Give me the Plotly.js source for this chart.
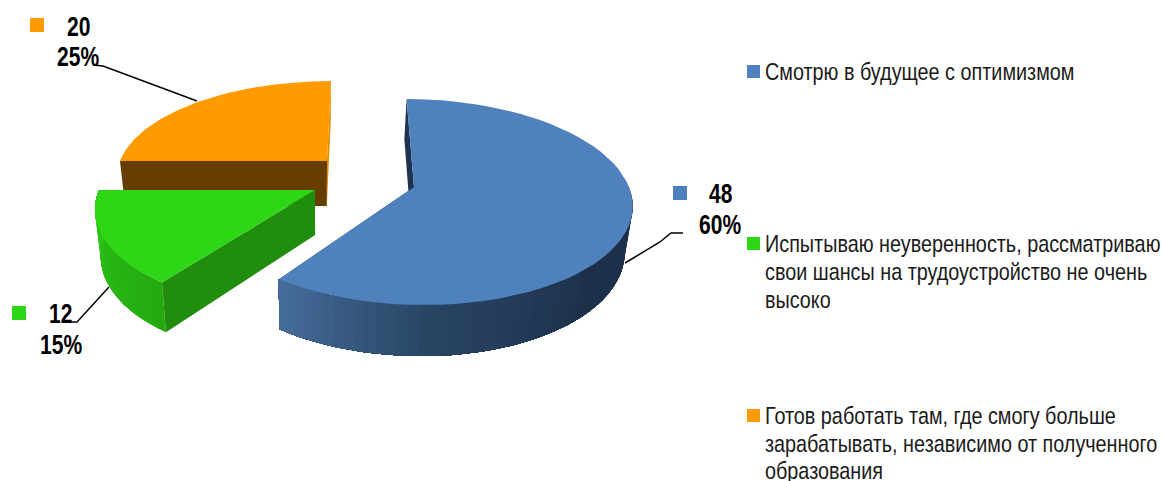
<!DOCTYPE html>
<html><head><meta charset="utf-8">
<script src="https://cdn.plot.ly/plotly-3.0.1.min.js"></script>
<style>html,body{margin:0;padding:0;background:#fff}#c{width:1162px;height:481px}</style>
</head><body><div id="c"></div>
<script>
// ---- data ----
const categories = ['Смотрю в будущее с оптимизмом',
  'Испытываю неуверенность, рассматриваю свои шансы на трудоустройство не очень высоко',
  'Готов работать там, где смогу больше зарабатывать, независимо от полученного образования'];
const values = [48, 12, 20];
// ---- wrapped legend text ----
const legendLines = [
  ['Смотрю в будущее с оптимизмом'],
  ['Испытываю неуверенность, рассматриваю','свои шансы на трудоустройство не очень','высоко'],
  ['Готов работать там, где смогу больше','зарабатывать, независимо от полученного','образования']
];
// ---- styles / layout ----
const topColors = ['#4f81bd', '#2dd716', '#ff9a00'];
const FONT = '"Liberation Sans",Arial,sans-serif';
const K = 0.1456, VX = 320, SH = 0.0255, D = 45, K2 = 0.12;
const sliceGeom = [
  {ax:414, ay:187, R:215, a:100.8, sk:8.5},
  {ax:315, ay:190, R:216, a:100.8, sk:-10},
  {ax:327, ay:161, R:207, a:91.6,  sk:-4.6}
];
const sideStops = [
  [[0,'#1c304a'],[0.62,'#1c304a'],[0.83,'#294564'],[1,'#466d9b']],
  [[0,'#2cc917'],[1,'#25a811']],
  [[0,'#d98a00'],[1,'#d98a00']]
];
const cutFaceColors = [['#1e3350','#1e3350'],['#208d0d','#208d0d'],['#663e00','#e08c00']];
const legendBox = [[753.5,71.5],[753.5,243.5],[753.5,415.5]];
const legendTextX = 764;
const legendLineY = [[71],[243,271,299],[415,443,470]];
const labelBox = [[680,193],[19,313],[37,25]];
const labelText = [[708,193.5,698,224.5],[48,313.5,39,344.5],[65.5,26.5,56,56.5]];
const leaders = [
  {x:[625,660,671,683], y:[263,242,233,233]},
  {x:[109,77,65], y:[287,322,322]},
  {x:[197,103,93], y:[101,66,65]}
];

// ---- projection ----
function topPt(g, th, r){
  r = r === undefined ? 1 : r;
  const u = r*Math.sin(th), v = -r*Math.cos(th), d = 1 - K*v;
  return [g.ax + (g.R*u + g.sk*v)/d, g.ay + g.a*v/d, v];
}
function botPt(p){
  return [p[0] + (VX - p[0])*SH, p[1] + D/(1 - K2*p[2])];
}
function hex(c){return [1,3,5].map(i=>parseInt(c.slice(i,i+2),16));}
function mix(stops,t){
  for(let i=1;i<stops.length;i++){
    if(t<=stops[i][0]){
      const a=stops[i-1],b=stops[i],f=(t-a[0])/((b[0]-a[0])||1);
      const A=hex(a[1]),B=hex(b[1]);
      return 'rgb('+A.map((x,j)=>Math.round(x+(B[j]-x)*f)).join(',')+')';
    }
  }
  return stops[stops.length-1][1];
}
function poly(pts,color){
  return {type:'scatter',mode:'lines',x:pts.map(p=>p[0]).concat([pts[0][0]]),y:pts.map(p=>p[1]).concat([pts[0][1]]),
    fill:'toself',fillcolor:color,line:{color:color,width:0},hoverinfo:'skip',showlegend:false};
}
// rim band from angle a to angle b
function band(g,a,b,n){
  const upper=[],lower=[];
  for(let s=0;s<=n;s++){
    const p=topPt(g,a+(b-a)*s/n);
    upper.push([p[0],p[1]]); lower.unshift(botPt(p));
  }
  return upper.concat(lower);
}

const total = values.reduce((a,b)=>a+b,0);
const traces = [];
leaders.forEach(l=>traces.push({type:'scatter',mode:'lines',x:l.x,y:l.y,line:{color:'#000',width:1.5},hoverinfo:'skip',showlegend:false}));

const starts=[]; let acc=0;
values.forEach(v=>{starts.push(acc/total*2*Math.PI); acc+=v;});

function drawTop(i,t0,t1){
  const g=sliceGeom[i],apex=topPt(g,0,0),n=60,pts=[[apex[0],apex[1]]];
  for(let s=0;s<=n;s++){const p=topPt(g,t0+(t1-t0)*s/n);pts.push([p[0],p[1]]);}
  traces.push(poly(pts,topColors[i]));
}
function face(i,th,color){
  const g=sliceGeom[i],apex=topPt(g,0,0),a=topPt(g,th);
  traces.push(poly([[a[0],a[1]],[apex[0],apex[1]],botPt(apex),botPt(a)],color));
}
function drawSlice(i){
  const g=sliceGeom[i], t0=starts[i], t1=t0+values[i]/total*2*Math.PI;
  const reversed = i===1;                   // green is shaded and stacked the other way
  if(!reversed){
    face(i,t0,cutFaceColors[i][0]);
    face(i,t1,cutFaceColors[i][1]);
  }
  const seg=Math.round((t1-t0)/(Math.PI/72));
  for(let s=0;s<seg;s++){
    const a=t0+(t1-t0)*s/seg, mid=t0+(t1-t0)*(s+.5)/seg;
    if(Math.cos(mid)>0.0) continue;
    // every band reaches to the end of the arc, so neighbours leave no seam
    traces.push(poly(band(g,a,t1,Math.max(2,seg-s)),mix(sideStops[i],reversed?1-(s+.5)/seg:(s+.5)/seg)));
  }
  if(reversed) face(i,t0,cutFaceColors[i][0]);
  drawTop(i,t0,t1);
}
drawSlice(0); drawSlice(2); drawSlice(1);

const sqX=[],sqY=[],sqC=[],sqS=[];
legendBox.forEach((p,i)=>{sqX.push(p[0]);sqY.push(p[1]);sqC.push(topColors[i]);sqS.push(13);});
labelBox.forEach((p,i)=>{sqX.push(p[0]);sqY.push(p[1]);sqC.push(topColors[i]);sqS.push(14);});
traces.push({type:'scatter',mode:'markers',x:sqX,y:sqY,hoverinfo:'skip',showlegend:false,
  marker:{symbol:'square',size:sqS,color:sqC,opacity:1,line:{width:0}}});

const ann=[];
legendLines.forEach((lines,i)=>lines.forEach((t,j)=>ann.push({x:legendTextX,y:legendLineY[i][j],xref:'x',yref:'y',text:t,showarrow:false,
  xanchor:'left',yanchor:'middle',borderpad:0,font:{family:FONT,size:24,color:'#1a1a1a'}})));
const legendCount=ann.length;
values.forEach((v,i)=>{
  const L=labelText[i], pct=Math.round(v/total*100)+'%';
  [['<b>'+v+'</b>',L[0],L[1]],['<b>'+pct+'</b>',L[2],L[3]]].forEach(e=>ann.push({x:e[1],y:e[2],xref:'x',yref:'y',text:e[0],showarrow:false,
    xanchor:'left',yanchor:'middle',borderpad:0,font:{family:FONT,size:27,color:'#000'}}));
});

Plotly.newPlot('c',traces,{
  width:1162,height:481,margin:{l:0,r:0,t:0,b:0,pad:0},
  paper_bgcolor:'#fff',plot_bgcolor:'#fff',showlegend:false,
  xaxis:{range:[0,1162],visible:false,fixedrange:true},
  yaxis:{range:[481,0],visible:false,fixedrange:true},
  annotations:ann
},{displayModeBar:false,staticPlot:true}).then(()=>{
  // the reference's face is a narrow sans: condense the real text horizontally
  document.querySelectorAll('.annotation-text').forEach((el,i)=>{
    el.style.transformBox='fill-box';
    el.style.transformOrigin='left center';
    el.style.transform='scaleX('+(i<legendCount?0.825:0.78)+')';
  });
});
</script></body></html>
